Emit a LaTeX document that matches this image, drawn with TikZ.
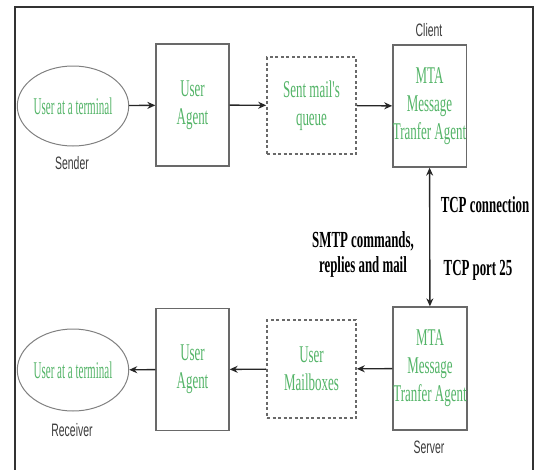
\documentclass[tikz,border=0pt]{standalone}
\usepackage{fontspec}
\usepackage{tikz}
\usetikzlibrary{shapes.geometric}
\usetikzlibrary{arrows.meta}

\newfontfamily\greenfont[FakeStretch=0.54]{Liberation Serif}
\newfontfamily\termfont[FakeStretch=0.46]{Liberation Serif}
\newfontfamily\smtpfont[FakeStretch=0.56]{Liberation Serif}
\newfontfamily\sidefont[FakeStretch=0.58]{Liberation Sans}

\definecolor{mailgreen}{RGB}{84,180,104}
\definecolor{boxgray}{RGB}{105,105,105}
\definecolor{labgray}{RGB}{60,60,60}

\begin{document}
\begin{tikzpicture}[x=1pt, y=-1pt,
    agentbox/.style={draw=boxgray, line width=1.3pt, minimum width=73pt, minimum height=122pt,
      inner sep=0pt, align=center, text=mailgreen, font=\greenfont\fontsize{24}{28}\selectfont},
    queuebox/.style={agentbox, dashed, dash pattern=on 3pt off 2.5pt, line width=1.6pt,
      minimum width=89pt, minimum height=97pt},
    termnode/.style={ellipse, draw=gray, line width=1pt, minimum width=110pt, minimum height=80pt,
      inner sep=0pt, text=mailgreen, font=\termfont\fontsize{24}{28}\selectfont},
    sidelabel/.style={text=labgray, font=\sidefont\fontsize{18}{21}\selectfont},
    smtplabel/.style={align=center, font=\smtpfont\bfseries\fontsize{23}{25}\selectfont},
    flow/.style={line width=1.4pt, draw=black!85, -{Stealth[length=8pt, width=7pt]}}]

  % Cadre
  \useasboundingbox (0,0) rectangle (535,469);
  \draw[line width=1.6pt, black!80] (15,470) -- (15,7) -- (533,7) -- (533,470);

  % Expediteur (ligne du haut)
  \node[termnode] (term1) at (73,106) {User at a terminal};
  \node[agentbox] (ua1) at (192.5,105) {User\\Agent};
  \node[queuebox] (queue) at (311.5,105.5) {Sent mail's\\queue};
  \node[agentbox] (mta1) at (429.5,106) {MTA\\Message\\Tranfer Agent};

  % Destinataire (ligne du bas)
  \node[termnode, minimum height=82pt] (term2) at (73,370) {User at a terminal};
  \node[agentbox] (ua2) at (192.5,369.5) {User\\Agent};
  \node[queuebox, minimum height=98pt] (mbox) at (311.5,369) {User\\Mailboxes};
  \node[agentbox, minimum width=74pt, minimum height=123pt] (mta2) at (430,368.5) {MTA\\Message\\Tranfer Agent};

  % Etiquettes
  \node[sidelabel] (sender) at (72,163) {Sender};
  \node[sidelabel] (receiver) at (72,430) {Receiver};
  \node[sidelabel] (client) at (429,30) {Client};
  \node[sidelabel] (server) at (429,447) {Server};
  \node[smtplabel] (tcpconn) at (485,205) {TCP connection};
  \node[smtplabel] (tcpport) at (478,270) {TCP port 25};
  \node[smtplabel] (smtp) at (363,254) {SMTP commands,\\replies and mail};

  % Fleches
  \draw[flow] (term1) -- (ua1);
  \draw[flow] (ua1) -- (queue);
  \draw[flow] (queue) -- (mta1);
  \draw[flow, {Stealth[length=8pt, width=7pt]}-{Stealth[length=8pt, width=7pt]}] (mta1) -- (mta2);
  \draw[flow] (mta2) -- (mbox);
  \draw[flow] (mbox) -- (ua2);
  \draw[flow] (ua2) -- (term2);
\end{tikzpicture}
\end{document}
